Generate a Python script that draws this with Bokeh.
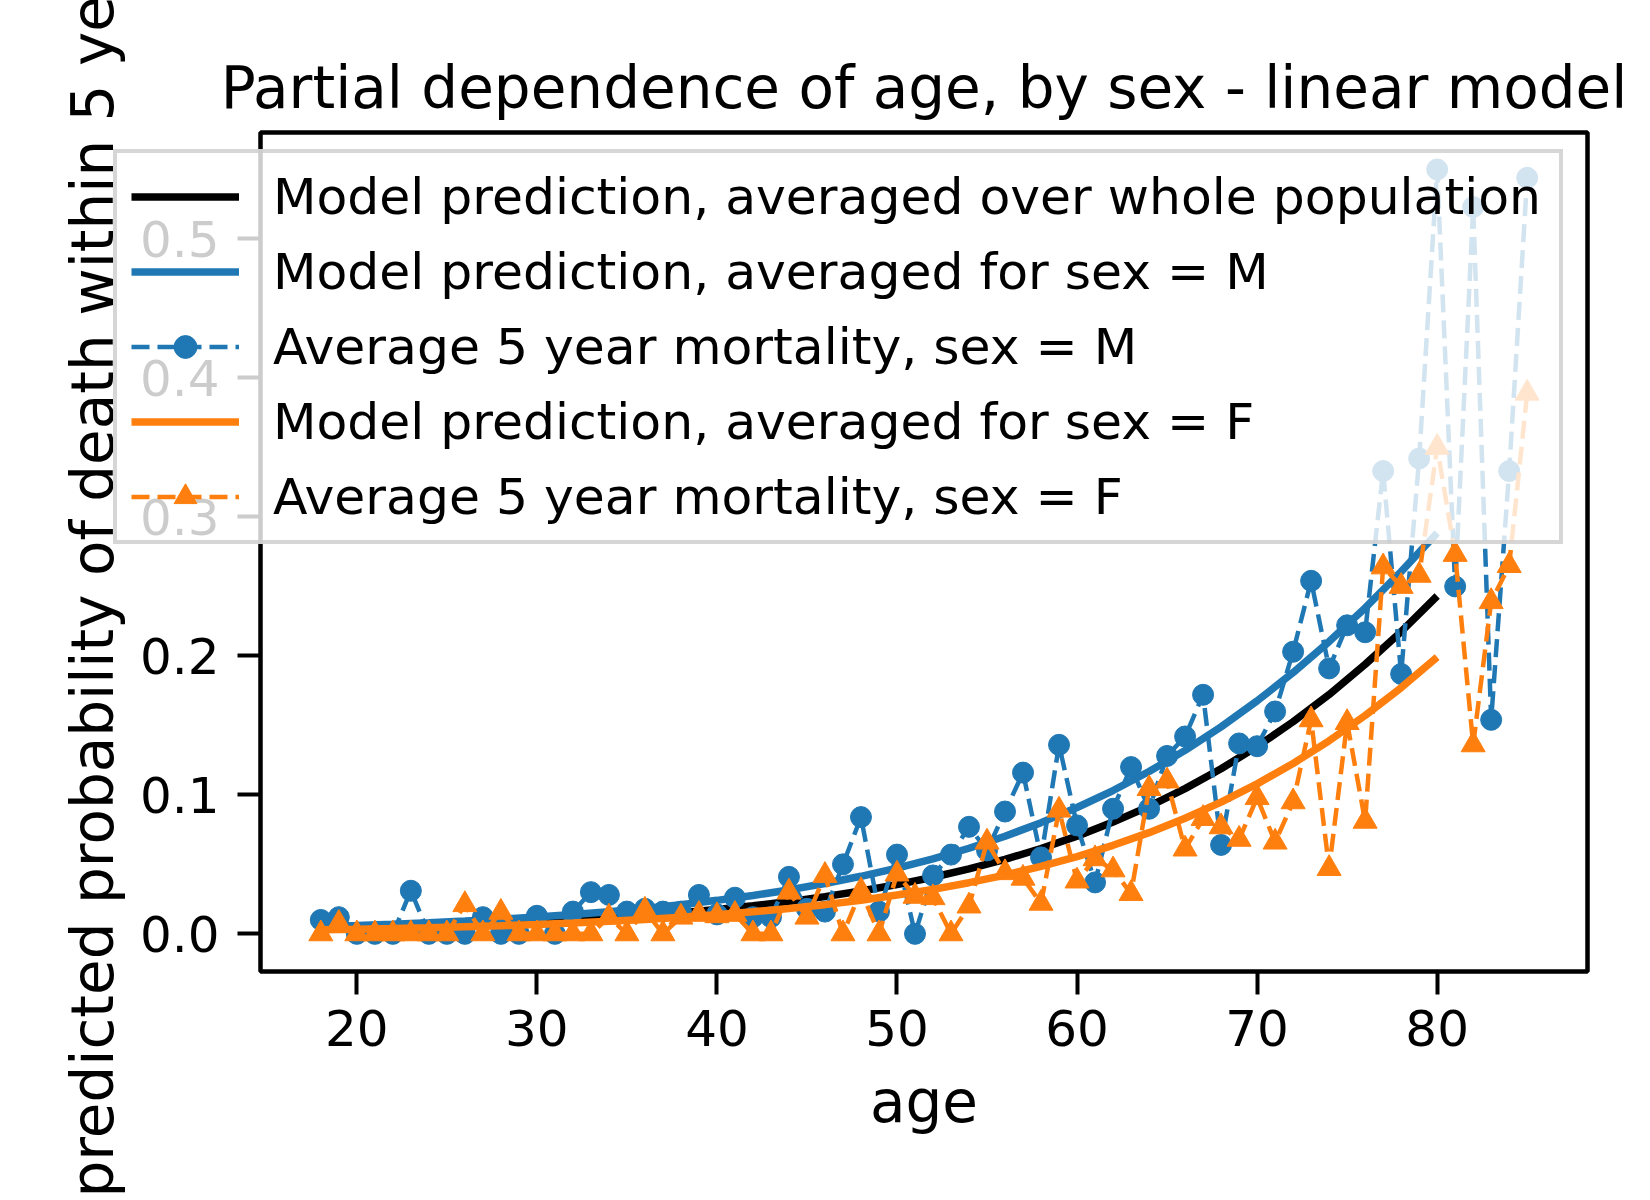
from bokeh.plotting import figure
from bokeh.models import Range1d, FixedTicker, PrintfTickFormatter, Legend, LegendItem
from bokeh.embed import file_html
from bokeh.resources import INLINE

# Observed 5-year mortality by age and sex
ages_obs = list(range(18, 86))
mort_m = [0.010, 0.012, 0.0, 0.0, 0.0, 0.031, 0.0, 0.0, 0.0, 0.012,
          0.0, 0.0, 0.013, 0.0, 0.016, 0.030, 0.028, 0.016, 0.018, 0.016,
          0.016, 0.028, 0.014, 0.026, 0.012, 0.012, 0.041, 0.018, 0.016, 0.050,
          0.084, 0.016, 0.057, 0.0, 0.042, 0.057, 0.077, 0.060, 0.088, 0.116,
          0.055, 0.136, 0.078, 0.037, 0.090, 0.120, 0.090, 0.128, 0.142, 0.172,
          0.064, 0.137, 0.135, 0.160, 0.203, 0.254, 0.191, 0.222, 0.217, 0.333,
          0.187, 0.342, 0.550, 0.250, 0.523, 0.154, 0.333, 0.544]
mort_f = [0.0, 0.0075, 0.0, 0.0, 0.0, 0.0, 0.0, 0.0, 0.021, 0.0,
          0.0155, 0.0, 0.0, 0.0, 0.0, 0.0, 0.012, 0.0, 0.017, 0.0,
          0.012, 0.014, 0.013, 0.014, 0.0, 0.0, 0.030, 0.012, 0.042, 0.0,
          0.031, 0.0, 0.043, 0.027, 0.026, 0.0, 0.020, 0.066, 0.044, 0.040,
          0.022, 0.089, 0.038, 0.054, 0.046, 0.029, 0.1045, 0.110, 0.061, 0.083,
          0.077, 0.068, 0.098, 0.066, 0.095, 0.154, 0.047, 0.152, 0.081, 0.264,
          0.250, 0.258, 0.350, 0.273, 0.136, 0.239, 0.265, 0.389]

# Model partial dependence on age
ages_model = [18, 20, 22, 24, 26, 28, 30, 32, 34, 36, 38, 40, 42, 44, 46, 48,
              50, 52, 54, 56, 58, 60, 62, 64, 66, 68, 70, 72, 74, 76, 78, 80]
pred_all = [0.0036, 0.0042, 0.0048, 0.0056, 0.0064, 0.0074, 0.0086, 0.0099,
            0.0114, 0.0132, 0.0152, 0.0175, 0.0202, 0.0232, 0.0268, 0.0308,
            0.0354, 0.0407, 0.0467, 0.0536, 0.0614, 0.0703, 0.0804, 0.0917,
            0.1045, 0.1188, 0.1348, 0.1526, 0.1722, 0.1939, 0.2174, 0.2431]
pred_m = [0.0053, 0.0060, 0.0069, 0.0080, 0.0092, 0.0105, 0.0121, 0.0139,
          0.0159, 0.0183, 0.0210, 0.0241, 0.0276, 0.0316, 0.0362, 0.0414,
          0.0473, 0.0540, 0.0616, 0.0702, 0.0800, 0.0909, 0.1031, 0.1168,
          0.1320, 0.1489, 0.1676, 0.1880, 0.2103, 0.2345, 0.2606, 0.2884]
pred_f = [0.0029, 0.0033, 0.0038, 0.0044, 0.0051, 0.0058, 0.0067, 0.0078,
          0.0090, 0.0104, 0.0119, 0.0138, 0.0159, 0.0183, 0.0210, 0.0242,
          0.0279, 0.0320, 0.0368, 0.0423, 0.0485, 0.0556, 0.0637, 0.0728,
          0.0832, 0.0948, 0.1079, 0.1226, 0.1389, 0.1571, 0.1771, 0.1991]

x_ticks = [20, 30, 40, 50, 60, 70, 80]
y_ticks = [0.0, 0.1, 0.2, 0.3, 0.4, 0.5]

labels = [
    "Model prediction, averaged over whole population",
    "Model prediction, averaged for sex = M",
    "Average 5 year mortality, sex = M",
    "Model prediction, averaged for sex = F",
    "Average 5 year mortality, sex = F",
]

BLUE = "#1f77b4"
ORANGE = "#ff7f0e"
FONT = "DejaVu Sans"
W, H = 1650, 1200

SOLID = dict(line_width=7.5)
DASHED = dict(line_width=4.5, line_dash="18 8")
CIRCLE = dict(marker="circle", size=21)
TRIANGLE = dict(marker="triangle", size=24)

p = figure(
    width=W, height=H,
    x_range=Range1d(14.65, 88.35), y_range=Range1d(-0.0271, 0.5766),
    output_backend="svg", toolbar_location=None,
    min_border_left=260, min_border_right=63,
    min_border_top=132, min_border_bottom=229,
    title="Partial dependence of age, by sex - linear model",
)
p.background_fill_color = "white"
p.border_fill_color = "white"
p.outline_line_color = "black"
p.outline_line_width = 4.5
p.xgrid.visible = False
p.ygrid.visible = False

p.title.align = "center"
p.title.text_font = FONT
p.title.text_font_size = "58px"
p.title.text_font_style = "normal"
p.title.text_color = "black"
p.title.standoff = 21

for ax in (p.xaxis[0], p.yaxis[0]):
    ax.axis_line_color = None
    ax.major_tick_in = 0
    ax.major_tick_out = 23
    ax.major_tick_line_width = 4
    ax.major_tick_line_color = "black"
    ax.minor_tick_line_color = None
    ax.major_label_text_font = FONT
    ax.major_label_text_font_size = "50px"
    ax.major_label_text_color = "black"
    ax.axis_label_text_font = FONT
    ax.axis_label_text_font_size = "58px"
    ax.axis_label_text_font_style = "normal"
    ax.axis_label_text_color = "black"

p.xaxis.ticker = FixedTicker(ticks=x_ticks)
p.yaxis.ticker = FixedTicker(ticks=y_ticks)
p.yaxis.formatter = PrintfTickFormatter(format="%.1f")
p.xaxis.axis_label = "age"
p.yaxis.axis_label = "predicted probability of death within 5 years"
p.xaxis.major_label_standoff = 15
p.yaxis.major_label_standoff = 18
p.xaxis.axis_label_standoff = 19
p.yaxis.axis_label_standoff = 10

p.line(ages_model, pred_all, line_color="black", **SOLID)
p.line(ages_model, pred_m, line_color=BLUE, **SOLID)
p.line(ages_obs, mort_m, line_color=BLUE, **DASHED)
p.scatter(ages_obs, mort_m, fill_color=BLUE, line_color=BLUE, **CIRCLE)
p.line(ages_model, pred_f, line_color=ORANGE, **SOLID)
p.line(ages_obs, mort_f, line_color=ORANGE, **DASHED)
p.scatter(ages_obs, mort_f, fill_color=ORANGE, line_color=ORANGE, **TRIANGLE)

# The legend box reaches past the left edge of the axes, over the tick labels,
# so it lives on a transparent full-size canvas laid over the chart.
overlay = figure(
    width=W, height=H, x_range=Range1d(0, 1), y_range=Range1d(0, 1),
    output_backend="svg", toolbar_location=None,
    x_axis_location=None, y_axis_location=None, min_border=0,
)
overlay.background_fill_alpha = 0
overlay.border_fill_alpha = 0
overlay.outline_line_color = None
overlay.grid.grid_line_color = None
overlay.styles = {"position": "absolute", "left": "0px", "top": "0px"}

# legend swatches, styled like the chart series (their single point is off-canvas)
off = ([-5], [-5])
k_all = overlay.line(*off, line_color="black", **SOLID)
k_m = overlay.line(*off, line_color=BLUE, **SOLID)
k_mo_line = overlay.line(*off, line_color=BLUE, **DASHED)
k_mo_pts = overlay.scatter(*off, fill_color=BLUE, line_color=BLUE, **CIRCLE)
k_f = overlay.line(*off, line_color=ORANGE, **SOLID)
k_fo_line = overlay.line(*off, line_color=ORANGE, **DASHED)
k_fo_pts = overlay.scatter(*off, fill_color=ORANGE, line_color=ORANGE, **TRIANGLE)

legend = Legend(
    items=[
        LegendItem(label=labels[0], renderers=[k_all]),
        LegendItem(label=labels[1], renderers=[k_m]),
        LegendItem(label=labels[2], renderers=[k_mo_line, k_mo_pts]),
        LegendItem(label=labels[3], renderers=[k_f]),
        LegendItem(label=labels[4], renderers=[k_fo_line, k_fo_pts]),
    ],
    location=(113, H - 544),
    margin=0,
    padding=14,
    spacing=16,
    glyph_width=108,
    glyph_height=57,
    label_height=57,
    label_width=1272,
    label_standoff=34,
    label_text_font=FONT,
    label_text_font_size="50.4px",
    label_text_color="black",
    border_line_color="#cccccc",
    border_line_width=4,
    border_line_alpha=0.8,
    background_fill_color="white",
    background_fill_alpha=0.8,
)
overlay.add_layout(legend)

open("out.html", "w").write(file_html([p, overlay], INLINE))
